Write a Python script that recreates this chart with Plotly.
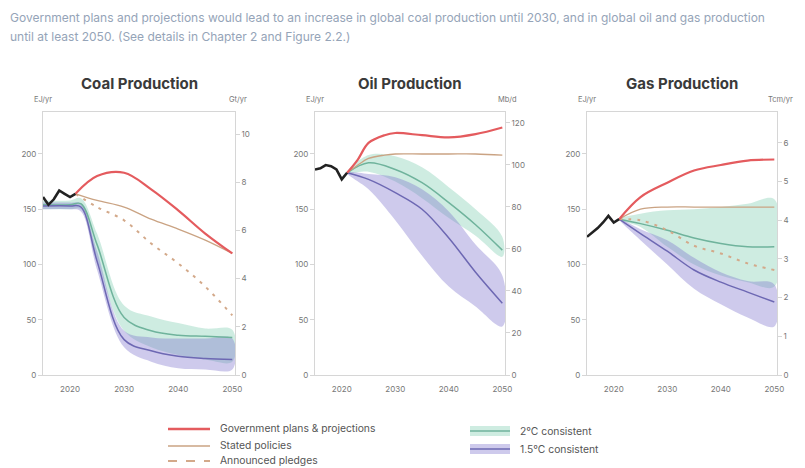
import plotly.graph_objects as go

# ---------------- data ----------------
hist_years = [2015, 2016, 2017, 2018, 2019, 2020, 2021]
coal_hist = [161, 154, 159, 167, 164, 161, 164]
oil_hist = [186, 187, 190, 189, 186, 177, 183]
gas_hist = [125, 129, 133, 138, 144, 138, 141]

# coal projections
coal_proj_years = [2021, 2025, 2030, 2035, 2040, 2045, 2050]
coal_gov = [164, 180, 183, 168, 149, 128, 110]
coal_stated = [164, 158, 152, 141, 132, 122, 110]
coal_pledges = [164, 152, 140, 119, 101, 80, 54]
coal_band_years = [2015, 2020, 2022, 2025, 2030, 2035, 2040, 2045, 2050]
coal_2c_hi = [158, 158, 160, 128, 63, 53, 47, 42, 41]
coal_2c_lo = [150, 150, 150, 105, 40, 25, 18, 14, 12]
coal_2c_med = [154, 154, 155, 118, 52, 40, 36, 35, 34]
coal_15_hi = [156, 156, 155, 112, 40, 34, 33, 33, 33]
coal_15_lo = [150, 150, 148, 95, 25, 12, 6, 5, 5]
coal_15_med = [153, 153, 152, 103, 32, 22, 17, 15, 14]

# oil projections
oil_proj_years = [2021, 2023, 2025, 2028, 2030, 2035, 2040, 2045, 2050]
oil_gov = [183, 195, 210, 217, 219, 217, 215, 218, 224]
oil_stated = [183, 190, 196, 199, 200, 200, 200, 200, 199]
oil_band_years = [2021, 2025, 2030, 2035, 2040, 2045, 2050]
oil_2c_hi = [183, 199, 198, 188, 170, 150, 125]
oil_2c_lo = [183, 184, 175, 160, 142, 126, 107]
oil_2c_med = [183, 192, 186, 174, 156, 136, 113]
oil_15_hi = [183, 182, 179, 168, 148, 118, 90]
oil_15_lo = [183, 168, 140, 108, 80, 62, 44]
oil_15_med = [183, 177, 165, 150, 124, 93, 65]

# gas projections
gas_proj_years = [2021, 2025, 2030, 2035, 2040, 2045, 2050]
gas_gov = [141, 161, 174, 185, 190, 194, 195]
gas_stated = [141, 150, 152, 152, 152, 152, 152]
gas_pledges = [141, 140, 131, 117, 110, 101, 95]
gas_band_years = [2021, 2025, 2030, 2035, 2040, 2045, 2050]
gas_2c_hi = [141, 146, 149, 150, 152, 155, 159]
gas_2c_lo = [141, 134, 116, 100, 90, 84, 80]
gas_2c_med = [141, 137, 131, 124, 119, 116, 116]
gas_15_hi = [141, 132, 122, 106, 93, 85, 82]
gas_15_lo = [141, 122, 100, 78, 64, 52, 44]
gas_15_med = [141, 128, 112, 95, 84, 75, 66]

x_ticks = [2020, 2030, 2040, 2050]
left_ticks = [0, 50, 100, 150, 200]
coal_right_ticks = [0, 2, 4, 6, 8, 10]
oil_right_ticks = [0, 20, 40, 60, 80, 100, 120]
gas_right_ticks = [0, 1, 2, 3, 4, 5, 6]

titles = ["Coal Production", "Oil Production", "Gas Production"]
right_units = ["Gt/yr", "Mb/d", "Tcm/yr"]

# ---------------- styling ----------------
# the page body has an 8px margin: figure is sized to fit the 805x468 window
OFF = 8
W, H = 805 - OFF, 468 - OFF


def px(X):  # page x pixel -> paper fraction
    return (X - OFF) / W


def py(Y):  # page y pixel -> paper fraction
    return 1 - (Y - OFF) / H


FONT = "Inter"
RED = "#e45b5e"
STATED = "#caa383"
PLEDGE = "#d3a98a"
GREEN_FILL = "rgba(125,205,175,0.38)"
GREEN_LINE = "#6fb39c"
PURPLE_FILL = "rgba(125,115,205,0.38)"
PURPLE_LINE = "#6d68b3"
GRID = "#d6d6d6"
TICKC = "#777777"

YMAX = 238
domains = [(px(43), px(235)), (px(315), px(505)), (px(587), px(777))]
ydom = (py(375), py(112))
right_factor = [0.04586, 0.526, 0.02855]
right_ticks = [coal_right_ticks, oil_right_ticks, gas_right_ticks]

fig = go.Figure()

panels = [
    dict(hist=coal_hist, py=coal_proj_years, gov=coal_gov, stated=coal_stated, pledges=coal_pledges,
         by=coal_band_years, g_hi=coal_2c_hi, g_lo=coal_2c_lo, g_med=coal_2c_med,
         p_hi=coal_15_hi, p_lo=coal_15_lo, p_med=coal_15_med),
    dict(hist=oil_hist, py=oil_proj_years, gov=oil_gov, stated=oil_stated, pledges=None,
         by=oil_band_years, g_hi=oil_2c_hi, g_lo=oil_2c_lo, g_med=oil_2c_med,
         p_hi=oil_15_hi, p_lo=oil_15_lo, p_med=oil_15_med),
    dict(hist=gas_hist, py=gas_proj_years, gov=gas_gov, stated=gas_stated, pledges=gas_pledges,
         by=gas_band_years, g_hi=gas_2c_hi, g_lo=gas_2c_lo, g_med=gas_2c_med,
         p_hi=gas_15_hi, p_lo=gas_15_lo, p_med=gas_15_med),
]

for i, p in enumerate(panels):
    xa = "x" if i == 0 else f"x{i+1}"
    ya = "y" if i == 0 else f"y{i+1}"
    yr = f"y{i+4}"
    by = p["by"]
    # bands
    fig.add_trace(go.Scatter(x=by + by[::-1], y=p["g_hi"] + p["g_lo"][::-1], fill="toself",
                             fillcolor=GREEN_FILL, line=dict(width=0, shape="spline"),
                             mode="lines", xaxis=xa, yaxis=ya, showlegend=False, hoverinfo="skip"))
    fig.add_trace(go.Scatter(x=by + by[::-1], y=p["p_hi"] + p["p_lo"][::-1], fill="toself",
                             fillcolor=PURPLE_FILL, line=dict(width=0, shape="spline"),
                             mode="lines", xaxis=xa, yaxis=ya, showlegend=False, hoverinfo="skip"))
    fig.add_trace(go.Scatter(x=by, y=p["g_med"], mode="lines",
                             line=dict(color=GREEN_LINE, width=1.5, shape="spline"),
                             xaxis=xa, yaxis=ya, showlegend=False))
    fig.add_trace(go.Scatter(x=by, y=p["p_med"], mode="lines",
                             line=dict(color=PURPLE_LINE, width=1.5, shape="spline"),
                             xaxis=xa, yaxis=ya, showlegend=False))
    # scenario lines
    if p["pledges"] is not None:
        fig.add_trace(go.Scatter(x=p["py"], y=p["pledges"], mode="lines",
                                 line=dict(color=PLEDGE, width=2, dash="3px,6px", shape="spline"),
                                 xaxis=xa, yaxis=ya, showlegend=False))
    fig.add_trace(go.Scatter(x=p["py"], y=p["stated"], mode="lines",
                             line=dict(color=STATED, width=1.3, shape="spline"),
                             xaxis=xa, yaxis=ya, showlegend=False))
    fig.add_trace(go.Scatter(x=p["py"], y=p["gov"], mode="lines",
                             line=dict(color=RED, width=2.2, shape="spline"),
                             xaxis=xa, yaxis=ya, showlegend=False))
    fig.add_trace(go.Scatter(x=hist_years, y=p["hist"], mode="lines",
                             line=dict(color="#222222", width=2.6),
                             xaxis=xa, yaxis=ya, showlegend=False))
    # right axis carrier (no visible marks)
    fig.add_trace(go.Scatter(x=[None], y=[None], xaxis=xa, yaxis=yr, showlegend=False))

    axfont = dict(family=FONT, size=8, color=TICKC)
    fig.layout[("xaxis" if i == 0 else f"xaxis{i+1}")] = dict(
        domain=list(domains[i]), anchor=ya, range=[2015, 2050.5], tickvals=x_ticks,
        showgrid=False, zeroline=False, showline=True, linecolor=GRID, mirror=True,
        ticks="", tickfont=axfont, ticklabelstandoff=6, automargin=False)
    fig.layout[("yaxis" if i == 0 else f"yaxis{i+1}")] = dict(
        domain=list(ydom), anchor=xa, range=[0, YMAX], tickvals=left_ticks,
        showgrid=False, zeroline=False, showline=True, linecolor=GRID,
        ticks="outside", ticklen=4, tickcolor=GRID, tickfont=axfont, automargin=False)
    fig.layout[f"yaxis{i+4}"] = dict(
        overlaying=ya, anchor=xa, side="right", range=[0, YMAX * right_factor[i]],
        tickvals=right_ticks[i], showgrid=False, zeroline=False, showline=True,
        linecolor=GRID, ticks="outside", ticklen=4, tickcolor=GRID, tickfont=axfont,
        automargin=False)

    cx = (domains[i][0] + domains[i][1]) / 2
    fig.add_annotation(x=cx, y=py(83), xref="paper", yref="paper", text=f"<b>{titles[i]}</b>",
                       showarrow=False, xanchor="center", yanchor="middle",
                       font=dict(family=FONT, size=15, color="#3a3a3a"))
    fig.add_annotation(x=domains[i][0], y=py(100), xref="paper", yref="paper", text="EJ/yr",
                       showarrow=False, xanchor="center", yanchor="middle",
                       font=dict(family=FONT, size=7.5, color=TICKC))
    fig.add_annotation(x=domains[i][1] + 3 / W, y=py(100), xref="paper", yref="paper",
                       text=right_units[i], showarrow=False, xanchor="center", yanchor="middle",
                       font=dict(family=FONT, size=7.5, color=TICKC))

# subtitle
sub_font = dict(family=FONT, size=12, color="#95a4b8")
fig.add_annotation(x=px(8), y=py(18), xref="paper", yref="paper", xanchor="left", yanchor="middle",
                   text="Government plans and projections would lead to an increase in global coal production until 2030, and in global oil and gas production",
                   showarrow=False, font=sub_font)
fig.add_annotation(x=px(8), y=py(37), xref="paper", yref="paper", xanchor="left", yanchor="middle",
                   text="until at least 2050. (See details in Chapter 2 and Figure 2.2.)",
                   showarrow=False, font=sub_font)

# legend (manual swatches)
leg_font = dict(family=FONT, size=10.3, color="#555555")
legend_left = [("Government plans & projections", RED, 2.5, "solid", 429),
               ("Stated policies", STATED, 1.5, "solid", 446),
               ("Announced pledges", PLEDGE, 1.8, "dash", 461)]
for text, col, w, dash, yy in legend_left:
    fig.add_shape(type="line", xref="paper", yref="paper", x0=px(168), x1=px(210),
                  y0=py(yy), y1=py(yy), line=dict(color=col, width=w, dash=dash))
    fig.add_annotation(x=px(218), y=py(yy - 1), xref="paper", yref="paper", xanchor="left",
                       yanchor="middle", text=text, showarrow=False, font=leg_font)
legend_right = [("2°C consistent", GREEN_FILL, GREEN_LINE, 431),
                ("1.5°C consistent", PURPLE_FILL, PURPLE_LINE, 449)]
for text, fc, lc, yy in legend_right:
    fig.add_shape(type="rect", xref="paper", yref="paper", x0=px(470), x1=px(510),
                  y0=py(yy + 5), y1=py(yy - 5), fillcolor=fc, line=dict(width=0))
    fig.add_shape(type="line", xref="paper", yref="paper", x0=px(470), x1=px(510),
                  y0=py(yy), y1=py(yy), line=dict(color=lc, width=1.5))
    fig.add_annotation(x=px(518), y=py(yy), xref="paper", yref="paper", xanchor="left",
                       yanchor="middle", text=text, showarrow=False, font=leg_font)

fig.update_layout(width=W, height=H, margin=dict(l=0, r=0, t=0, b=0),
                  paper_bgcolor="white", plot_bgcolor="white", showlegend=False,
                  font=dict(family=FONT))
fig.write_html("out.html")
